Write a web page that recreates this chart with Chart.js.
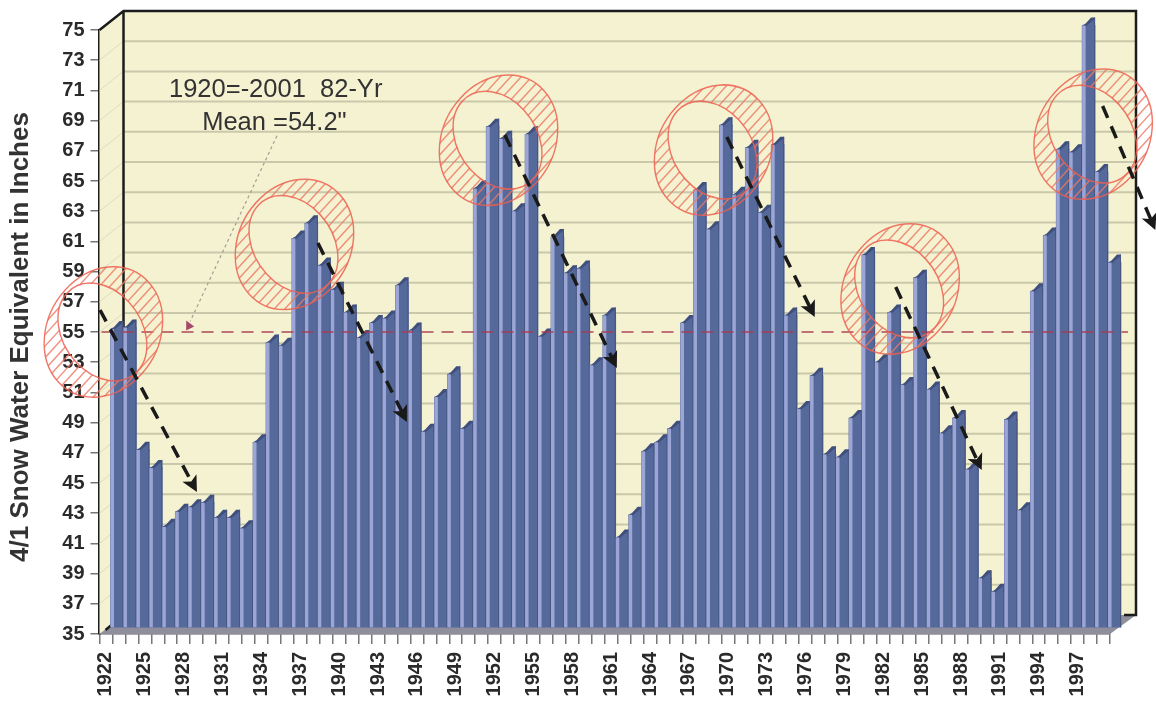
<!DOCTYPE html>
<html>
<head>
<meta charset="utf-8">
<title>4/1 Snow Water Equivalent</title>
<script src="https://cdn.jsdelivr.net/npm/chart.js@4"></script>
<style>
  html, body { margin: 0; padding: 0; background: #fff; }
  canvas { display: block; }
</style>
</head>
<body>
<canvas id="chart" width="1156" height="701"></canvas>
<script>
const years = [];
for (let y = 1922; y <= 1999; y++) years.push(String(y));

const snowWater = [
  54.8, 54.9, 46.8, 45.6, 41.7, 42.7, 43.0, 43.3, 42.3, 42.3,
  41.6, 47.3, 53.9, 53.7, 60.8, 61.8, 59.0, 57.4, 55.9, 54.2,
  55.2, 55.5, 57.7, 54.7, 48.0, 50.3, 51.8, 48.2, 64.1, 68.2,
  67.4, 62.6, 67.7, 54.3, 60.9, 58.5, 58.8, 52.4, 55.7, 41.0,
  42.5, 46.7, 47.3, 48.2, 55.2, 64.0, 61.4, 68.3, 63.7, 66.8,
  62.5, 67.0, 55.7, 49.5, 51.7, 46.5, 46.3, 48.9, 59.7, 52.6,
  55.9, 51.1, 58.2, 50.8, 47.9, 48.9, 45.5, 38.3, 37.4, 48.8,
  42.8, 57.3, 61.0, 66.7, 66.5, 74.9, 65.2, 59.2,
];

const yTitle = "4/1 Snow Water Equivalent in Inches";
const meanLine = 55;
const noteLines = ["1920=-2001  82-Yr", 'Mean =54.2"'];
const notePos = [[1935.1, 71.0], [1935.0, 68.85]];
const leader = [1935.2, 68.0, 1928.5, 55.7];

// ring centres: year, value
const rings = [
  [1921.8, 55.0], [1936.55, 60.8], [1952.3, 67.7],
  [1968.9, 67.05], [1983.3, 57.85], [1998.2, 68.1],
];

// trend arrows: year, value -> year, value
const arrows = [
  [1921.54, 56.46, 1929.02, 44.4],
  [1938.36, 60.89, 1945.23, 49.04],
  [1952.79, 68.05, 1961.43, 52.62],
  [1969.92, 67.91, 1976.71, 55.99],
  [1982.96, 57.98, 1989.6, 45.86],
  [1998.93, 69.97, 2003, 61.75],
];

const WALL_DX = 24;
const WALL_DY = 19;
const BAR_DX = 11;
const BAR_DY = 6;
const BAR_RISE = 8;
const STRIPE = 3.5;

const FONT = '"Liberation Sans", Arial, sans-serif';

function xAt(chart, year) {
  return chart.scales.x.getPixelForValue(year - 1922);
}
function yAt(chart, value) {
  return chart.scales.y.getPixelForValue(value);
}

function drawRoom(chart) {
  const { ctx, chartArea: a, scales } = chart;
  const L = a.left, R = a.right, T = a.top, B = a.bottom;
  ctx.save();

  // back wall and left wall
  ctx.fillStyle = "#f5f2d1";
  ctx.fillRect(L + WALL_DX, T - WALL_DY, R - L + 2, B - T);
  ctx.beginPath();
  ctx.moveTo(L, T);
  ctx.lineTo(L + WALL_DX, T - WALL_DY);
  ctx.lineTo(L + WALL_DX, B - WALL_DY);
  ctx.lineTo(L, B);
  ctx.closePath();
  ctx.fill();

  // gridlines on the walls
  scales.y.ticks.forEach((t) => {
    const y = scales.y.getPixelForValue(t.value);
    if (t.value === 35) return;
    ctx.strokeStyle = "#c9c8aa";
    ctx.lineWidth = 2;
    ctx.beginPath();
    ctx.moveTo(L + WALL_DX, y - WALL_DY);
    ctx.lineTo(R + WALL_DX + 2, y - WALL_DY);
    ctx.stroke();
    ctx.strokeStyle = "#dcdcc0";
    ctx.lineWidth = 1;
    ctx.beginPath();
    ctx.moveTo(L, y);
    ctx.lineTo(L + WALL_DX, y - WALL_DY);
    ctx.stroke();
  });

  // floor
  ctx.fillStyle = "#8f8f9c";
  ctx.beginPath();
  ctx.moveTo(L, B);
  ctx.lineTo(R, B);
  ctx.lineTo(R + WALL_DX + 2, B - WALL_DY);
  ctx.lineTo(L + WALL_DX, B - WALL_DY);
  ctx.closePath();
  ctx.fill();

  // frame
  ctx.strokeStyle = "#1c1c1c";
  ctx.lineWidth = 2.5;
  ctx.beginPath();
  ctx.moveTo(L, T);
  ctx.lineTo(L + WALL_DX, T - WALL_DY);
  ctx.lineTo(R + WALL_DX + 2, T - WALL_DY);
  ctx.lineTo(R + WALL_DX + 2, B - WALL_DY);
  ctx.lineTo(R + 14, B - WALL_DY);
  ctx.moveTo(L + WALL_DX, T - WALL_DY);
  ctx.lineTo(L + WALL_DX, B - WALL_DY);
  ctx.lineTo(L + 6, B - 4);
  ctx.stroke();
  ctx.restore();
}

function drawBarFaces(chart, meta) {
  const { ctx } = chart;
  meta.data.forEach((bar) => {
    const w = bar.width;
    const x0 = bar.x - w / 2;
    const x1 = bar.x + w / 2;
    // slanted top of the column
    ctx.fillStyle = "#3f4f7e";
    ctx.beginPath();
    ctx.moveTo(x0, bar.y);
    ctx.lineTo(x0 + STRIPE, bar.y - 2);
    ctx.lineTo(x1 - 4, bar.y - BAR_RISE);
    ctx.lineTo(x1, bar.y - BAR_RISE);
    ctx.lineTo(x1, bar.y + 1);
    ctx.lineTo(x0, bar.y + 1);
    ctx.closePath();
    ctx.fill();
    // side face under the top
    ctx.fillStyle = "#56699b";
    ctx.beginPath();
    ctx.moveTo(x0 + STRIPE, bar.y + 1);
    ctx.lineTo(x1 - 1, bar.y - BAR_RISE + 2);
    ctx.lineTo(x1 - 1, bar.y + 2);
    ctx.closePath();
    ctx.fill();
    // light front face
    ctx.fillStyle = "#9ba6d6";
    ctx.fillRect(x0, bar.y, STRIPE, bar.base - bar.y);
    // dark seam
    ctx.fillStyle = "#46567f";
    ctx.fillRect(x1 - 1, bar.y - BAR_RISE, 1, bar.base - bar.y + BAR_RISE);
  });
}

function drawMean(chart) {
  const { ctx, chartArea: a } = chart;
  const y = yAt(chart, meanLine);
  ctx.save();
  ctx.strokeStyle = "rgba(166, 60, 80, 0.7)";
  ctx.lineWidth = 2;
  ctx.setLineDash([12, 8]);
  ctx.beginPath();
  ctx.moveTo(a.left + 2, y);
  ctx.lineTo(a.right + 18, y);
  ctx.stroke();
  ctx.setLineDash([3, 3]);
  ctx.strokeStyle = "#a89c92";
  ctx.lineWidth = 1.2;
  ctx.beginPath();
  ctx.moveTo(xAt(chart, leader[0]), yAt(chart, leader[1]));
  ctx.lineTo(xAt(chart, leader[2]), yAt(chart, leader[3]));
  ctx.stroke();
  // little head of the leader
  const hx = xAt(chart, leader[2]);
  const hy = yAt(chart, leader[3]);
  ctx.fillStyle = "#a6486a";
  ctx.beginPath();
  ctx.moveTo(hx - 4, hy - 1);
  ctx.lineTo(hx + 4, hy + 5);
  ctx.lineTo(hx - 4, hy + 9);
  ctx.closePath();
  ctx.fill();
  ctx.restore();
}

function ringPath(ctx, cx, cy, rx, ry, rot) {
  ctx.moveTo(cx + rx * Math.cos(rot), cy + rx * Math.sin(rot));
  ctx.ellipse(cx, cy, rx, ry, rot, 0, Math.PI * 2);
}

function ringShape(ctx) {
  ctx.beginPath();
  ringPath(ctx, 0, 0, 64, 54, -Math.PI / 4);
  ringPath(ctx, -1, 0, 50, 38, Math.PI / 4);
}

function drawRing(chart, ring) {
  const { ctx } = chart;
  const cx = xAt(chart, ring[0]);
  const cy = yAt(chart, ring[1]);
  ctx.save();
  ctx.translate(cx, cy);
  ctx.scale(1, 1.1);

  ctx.save();
  ringShape(ctx);
  ctx.clip("evenodd");
  ctx.strokeStyle = "rgba(238, 120, 100, 0.8)";
  ctx.lineWidth = 1.4;
  ctx.beginPath();
  for (let d = -140; d <= 140; d += 10.5) {
    ctx.moveTo(d - 90, 90);
    ctx.lineTo(d + 90, -90);
  }
  ctx.stroke();
  ctx.restore();

  ctx.strokeStyle = "rgba(236, 96, 80, 0.85)";
  ctx.lineWidth = 1.4;
  ringShape(ctx);
  ctx.stroke();
  ctx.restore();
}

function drawArrow(chart, arrow) {
  const { ctx } = chart;
  const x1 = xAt(chart, arrow[0]);
  const y1 = yAt(chart, arrow[1]);
  const x2 = xAt(chart, arrow[2]);
  const y2 = yAt(chart, arrow[3]);
  const ang = Math.atan2(y2 - y1, x2 - x1);
  ctx.save();
  ctx.strokeStyle = "#1a1a1a";
  ctx.fillStyle = "#1a1a1a";
  ctx.lineWidth = 3.5;
  ctx.setLineDash([13, 9]);
  ctx.beginPath();
  ctx.moveTo(x1, y1);
  ctx.lineTo(x2 - 8 * Math.cos(ang), y2 - 8 * Math.sin(ang));
  ctx.stroke();
  ctx.setLineDash([]);
  ctx.translate(x2, y2);
  ctx.rotate(ang);
  ctx.beginPath();
  ctx.moveTo(0, 0);
  ctx.lineTo(-16, -8);
  ctx.lineTo(-12, 0);
  ctx.lineTo(-16, 8);
  ctx.closePath();
  ctx.fill();
  ctx.restore();
}

function drawNote(chart) {
  const { ctx } = chart;
  ctx.save();
  ctx.fillStyle = "#333";
  ctx.font = `25.5px ${FONT}`;
  ctx.textAlign = "center";
  ctx.textBaseline = "middle";
  noteLines.forEach((line, i) => {
    ctx.fillText(line, xAt(chart, notePos[i][0]), yAt(chart, notePos[i][1]));
  });
  ctx.restore();
}

// axis title sits a little below the centre of the axis, so it is placed by hand
function drawAxisTitle(chart) {
  const { ctx, chartArea: a } = chart;
  ctx.save();
  ctx.translate(21, (a.top + a.bottom) / 2 + 5);
  ctx.rotate(-Math.PI / 2);
  ctx.fillStyle = "#333";
  ctx.font = `bold 26px ${FONT}`;
  ctx.textAlign = "center";
  ctx.textBaseline = "middle";
  ctx.fillText(yTitle, 0, 0);
  ctx.restore();
}

const roomPlugin = {
  id: "room",
  beforeDatasetsDraw(chart) {
    drawRoom(chart);
    drawAxisTitle(chart);
  },
  beforeDatasetDraw(chart) {
    chart.ctx.save();
    chart.ctx.translate(BAR_DX, -BAR_DY);
  },
  afterDatasetDraw(chart, args) {
    drawBarFaces(chart, args.meta);
    chart.ctx.restore();
  },
  afterDatasetsDraw(chart) {
    drawMean(chart);
    drawNote(chart);
    rings.forEach((r) => drawRing(chart, r));
    arrows.forEach((a) => drawArrow(chart, a));
  },
};

new Chart(document.getElementById("chart"), {
  type: "bar",
  data: {
    labels: years,
    datasets: [
      {
        label: "4/1 Snow Water Equivalent",
        data: snowWater,
        backgroundColor: "#56699b",
        base: 35,
        barPercentage: 1,
        categoryPercentage: 1,
        clip: false,
      },
    ],
  },
  plugins: [roomPlugin],
  options: {
    responsive: false,
    animation: false,
    layout: { padding: { top: 30, right: 46, left: 0, bottom: 0 } },
    plugins: { legend: { display: false }, tooltip: { enabled: false } },
    scales: {
      x: {
        afterFit: (s) => { s.height = 67; },
        border: { color: "#555", width: 1.5 },
        grid: { drawOnChartArea: false, color: "#777", tickLength: 10, lineWidth: 1.5 },
        ticks: {
          autoSkip: false,
          minRotation: 90,
          maxRotation: 90,
          padding: 8,
          color: "#2a2a2a",
          font: { family: FONT, size: 20, weight: "bold" },
          callback: (v, i) => (i % 3 === 0 ? years[i] : ""),
        },
      },
      y: {
        min: 35,
        max: 75,
        afterFit: (s) => { s.width = 99.5; },
        border: { color: "#1c1c1c", width: 2.5 },
        grid: { drawOnChartArea: false, color: "#777", tickLength: 9, lineWidth: 1.5 },
        ticks: {
          stepSize: 2,
          padding: 6,
          color: "#2a2a2a",
          font: { family: FONT, size: 20, weight: "bold" },
        },
      },
    },
  },
});
</script>
</body>
</html>
